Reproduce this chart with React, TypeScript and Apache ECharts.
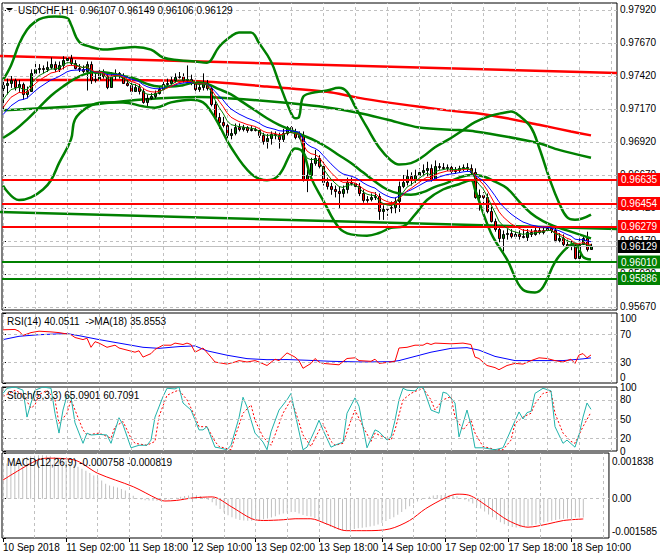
import React, { useEffect, useRef } from "react";
import * as echarts from "echarts";

// ---------------- data ----------------
const headerText = "USDCHF,H1  0.96107 0.96149 0.96106 0.96129";
const rsiText = "RSI(14) 40.0511  ->MA(18) 35.8553";
const stochText = "Stoch(5,3,3) 65.0901 60.7091";
const macdText = "MACD(12,26,9) -0.000758 -0.000819";

const timeLabels = ["10 Sep 2018", "11 Sep 02:00", "11 Sep 18:00", "12 Sep 10:00", "13 Sep 02:00", "13 Sep 18:00", "14 Sep 10:00", "17 Sep 02:00", "17 Sep 18:00", "18 Sep 10:00"];
const timeLabelBars = [0, 16, 32, 48, 64, 80, 96, 112, 128, 144];
const gridBars = [0, 8, 16, 24, 32, 40, 48, 56, 64, 72, 80, 88, 96, 104, 112, 120, 128, 136, 144, 152];
const priceTicks = [0.9567, 0.9592, 0.9617, 0.9642, 0.9667, 0.9692, 0.9717, 0.9742, 0.9767, 0.9792];
const resistanceLevels = [0.96635, 0.96454, 0.96279];
const supportLevels = [0.9601, 0.95886];
const lastPrice = 0.96129;

// [open, high, low, close] per hourly bar
const ohlc = [
  [0.9733, 0.9739, 0.9716, 0.9735], [0.9735, 0.9740, 0.9728, 0.9737], [0.9737, 0.9742, 0.9733, 0.9739], [0.9739, 0.9740, 0.9731, 0.9734], [0.9734, 0.9739, 0.9730, 0.9736],
  [0.9736, 0.9737, 0.9724, 0.9728], [0.9728, 0.9734, 0.9725, 0.9731], [0.9731, 0.9747, 0.9730, 0.9744], [0.9744, 0.9753, 0.9742, 0.9747], [0.9747, 0.9751, 0.9744, 0.9748],
  // 10
  [0.9748, 0.9750, 0.9744, 0.9747], [0.9747, 0.9753, 0.9745, 0.9749], [0.9749, 0.9756, 0.9747, 0.9751], [0.9751, 0.9753, 0.9745, 0.9747], [0.9747, 0.9753, 0.9745, 0.9750],
  [0.9750, 0.9757, 0.9747, 0.9754], [0.9754, 0.9758, 0.9751, 0.9756], [0.9756, 0.9758, 0.9750, 0.9752], [0.9752, 0.9754, 0.9747, 0.9748], [0.9748, 0.9751, 0.9745, 0.9747],
  // 20
  [0.9747, 0.9750, 0.9744, 0.9746], [0.9746, 0.9753, 0.9731, 0.9751], [0.9751, 0.9753, 0.9736, 0.9739], [0.9739, 0.9744, 0.9737, 0.9740], [0.9740, 0.9747, 0.9739, 0.9744],
  [0.9744, 0.9747, 0.9740, 0.9742], [0.9742, 0.9744, 0.9732, 0.9734], [0.9734, 0.9745, 0.9733, 0.9742], [0.9742, 0.9747, 0.9739, 0.9744], [0.9744, 0.9745, 0.9740, 0.9742],
  // 30
  [0.9742, 0.9744, 0.9736, 0.9737], [0.9737, 0.9739, 0.9734, 0.9735], [0.9735, 0.9737, 0.9728, 0.9731], [0.9731, 0.9736, 0.9730, 0.9734], [0.9734, 0.9736, 0.9728, 0.9731],
  [0.9731, 0.9733, 0.9721, 0.9722], [0.9722, 0.9728, 0.9718, 0.9725], [0.9725, 0.9729, 0.9724, 0.9727], [0.9727, 0.9731, 0.9725, 0.9729], [0.9729, 0.9734, 0.9728, 0.9732],
  // 40
  [0.9732, 0.9738, 0.9731, 0.9736], [0.9736, 0.9740, 0.9734, 0.9737], [0.9737, 0.9742, 0.9736, 0.9739], [0.9739, 0.9744, 0.9737, 0.9741], [0.9741, 0.9745, 0.9740, 0.9742],
  [0.9742, 0.9744, 0.9737, 0.9739], [0.9739, 0.9750, 0.9737, 0.9740], [0.9740, 0.9743, 0.9735, 0.9737], [0.9737, 0.9740, 0.9730, 0.9732], [0.9732, 0.9737, 0.9730, 0.9734],
  // 50
  [0.9734, 0.9744, 0.9731, 0.9737], [0.9737, 0.9739, 0.9731, 0.9733], [0.9733, 0.9735, 0.9719, 0.9721], [0.9721, 0.9723, 0.9709, 0.9711], [0.9711, 0.9714, 0.9702, 0.9707],
  [0.9707, 0.9711, 0.9703, 0.9705], [0.9705, 0.9707, 0.9695, 0.9697], [0.9697, 0.9702, 0.9694, 0.9699], [0.9699, 0.9706, 0.9697, 0.9703], [0.9703, 0.9706, 0.9700, 0.9702],
  // 60
  [0.9702, 0.9705, 0.9700, 0.9703], [0.9703, 0.9704, 0.9699, 0.9701], [0.9701, 0.9704, 0.9700, 0.9702], [0.9702, 0.9703, 0.9700, 0.9701], [0.9701, 0.9703, 0.9695, 0.9697],
  [0.9697, 0.9699, 0.9690, 0.9693], [0.9693, 0.9698, 0.9687, 0.9695], [0.9695, 0.9700, 0.9690, 0.9698], [0.9698, 0.9700, 0.9694, 0.9697], [0.9697, 0.9699, 0.9687, 0.9694],
  // 70
  [0.9694, 0.9702, 0.9692, 0.9699], [0.9699, 0.9704, 0.9697, 0.9703], [0.9703, 0.9704, 0.9698, 0.9700], [0.9700, 0.9702, 0.9694, 0.9696], [0.9696, 0.9700, 0.9694, 0.9697],
  [0.9697, 0.9700, 0.9662, 0.9663], [0.9663, 0.9671, 0.9654, 0.9667], [0.9667, 0.9680, 0.9665, 0.9676], [0.9676, 0.9686, 0.9674, 0.9680], [0.9680, 0.9682, 0.9672, 0.9674],
  // 80
  [0.9674, 0.9677, 0.9659, 0.9662], [0.9662, 0.9665, 0.9656, 0.9659], [0.9659, 0.9661, 0.9652, 0.9656], [0.9656, 0.9659, 0.9650, 0.9655], [0.9655, 0.9658, 0.9642, 0.9653],
  [0.9653, 0.9659, 0.9650, 0.9656], [0.9656, 0.9665, 0.9653, 0.9662], [0.9662, 0.9665, 0.9659, 0.9661], [0.9661, 0.9663, 0.9656, 0.9659], [0.9659, 0.9661, 0.9651, 0.9653],
  // 90
  [0.9653, 0.9656, 0.9646, 0.9648], [0.9648, 0.9651, 0.9646, 0.9649], [0.9649, 0.9653, 0.9647, 0.9650], [0.9650, 0.9654, 0.9648, 0.9651], [0.9651, 0.9653, 0.9633, 0.9640],
  [0.9640, 0.9644, 0.9633, 0.9641], [0.9641, 0.9644, 0.9636, 0.9642], [0.9642, 0.9647, 0.9638, 0.9643], [0.9643, 0.9650, 0.9638, 0.9647], [0.9647, 0.9662, 0.9639, 0.9659],
  // 100
  [0.9659, 0.9667, 0.9657, 0.9662], [0.9662, 0.9671, 0.9659, 0.9666], [0.9666, 0.9669, 0.9659, 0.9663], [0.9663, 0.9671, 0.9661, 0.9667], [0.9667, 0.9672, 0.9665, 0.9669],
  [0.9669, 0.9675, 0.9666, 0.9671], [0.9671, 0.9677, 0.9666, 0.9672], [0.9672, 0.9675, 0.9662, 0.9664], [0.9664, 0.9678, 0.9663, 0.9674], [0.9674, 0.9676, 0.9671, 0.9673],
  // 110
  [0.9673, 0.9676, 0.9671, 0.9672], [0.9672, 0.9675, 0.9670, 0.9673], [0.9673, 0.9675, 0.9668, 0.9670], [0.9670, 0.9673, 0.9668, 0.9671], [0.9671, 0.9674, 0.9669, 0.9672],
  [0.9672, 0.9675, 0.9670, 0.9673], [0.9673, 0.9676, 0.9670, 0.9672], [0.9672, 0.9675, 0.9667, 0.9669], [0.9669, 0.9672, 0.9649, 0.9650], [0.9650, 0.9656, 0.9640, 0.9652],
  // 120
  [0.9652, 0.9654, 0.9644, 0.9650], [0.9650, 0.9653, 0.9638, 0.9640], [0.9640, 0.9643, 0.9631, 0.9632], [0.9632, 0.9634, 0.9624, 0.9626], [0.9626, 0.9628, 0.9616, 0.9619],
  [0.9619, 0.9625, 0.9609, 0.9622], [0.9622, 0.9626, 0.9618, 0.9623], [0.9623, 0.9626, 0.9619, 0.9621], [0.9621, 0.9625, 0.9619, 0.9622], [0.9622, 0.9625, 0.9618, 0.9621],
  // 130
  [0.9621, 0.9626, 0.9619, 0.9620], [0.9620, 0.9626, 0.9617, 0.9624], [0.9624, 0.9626, 0.9620, 0.9622], [0.9622, 0.9628, 0.9621, 0.9625], [0.9625, 0.9627, 0.9622, 0.9624],
  [0.9624, 0.9628, 0.9622, 0.9625], [0.9625, 0.9630, 0.9624, 0.9627], [0.9627, 0.9629, 0.9623, 0.9625], [0.9625, 0.9628, 0.9616, 0.9618], [0.9618, 0.9623, 0.9616, 0.9619],
  // 140
  [0.9619, 0.9622, 0.9613, 0.9615], [0.9615, 0.9618, 0.9611, 0.9613], [0.9613, 0.9617, 0.9610, 0.9614], [0.9614, 0.9615, 0.9603, 0.9604], [0.9604, 0.9619, 0.9600, 0.9615],
  [0.9615, 0.9621, 0.9614, 0.9619], [0.9619, 0.9624, 0.9609, 0.9611], [0.96107, 0.96149, 0.96106, 0.96129],
];

// moving-average starting values read at the left edge
const maSeeds = { fast: 0.9718, mid: 0.9713, slow: 0.9709 };
const maPeriods = { fast: 5, mid: 8, slow: 13 };

// long lines [bar, price]
const trendTop = [[-0.75, 0.97572], [153.5, 0.97443]];
const trendGreen = [[-0.75, 0.9639], [153.5, 0.9626]];
const longRedMa = [[0, 0.9739], [24, 0.9739], [49, 0.9738], [66, 0.9734], [81, 0.973], [88, 0.9726], [96, 0.9722], [106, 0.9718], [114, 0.9715], [118, 0.9714], [126, 0.971], [134, 0.9705], [142, 0.97], [147, 0.9697]];
const longGreenMa = [[0, 0.9716], [18, 0.9719], [34, 0.9724], [49, 0.9726], [57, 0.9725], [70, 0.9722], [79, 0.9719], [89, 0.9714], [96, 0.9709], [104, 0.9703], [114, 0.9701], [118, 0.97], [126, 0.9696], [134, 0.9691], [139, 0.9686], [147, 0.968]];
const bandUpper = [[0, 0.9739], [2, 0.975], [4, 0.9766], [6, 0.9777], [8, 0.9783], [10, 0.9786], [13, 0.9787], [16, 0.9786], [17, 0.9781], [19, 0.9768], [22, 0.9764], [25, 0.9762], [29, 0.9763], [33, 0.9764], [37, 0.9762], [40, 0.9756], [44, 0.9754], [48, 0.9753], [51, 0.9752], [52, 0.9754], [54, 0.9764], [57, 0.9772], [59, 0.9775], [62, 0.9775], [64, 0.9767], [67, 0.9753], [69, 0.9737], [72, 0.9714], [73, 0.971], [74, 0.9711], [75, 0.9726], [77, 0.9729], [81, 0.9731], [84, 0.9733], [86, 0.973], [88, 0.9719], [91, 0.9703], [94, 0.9688], [97, 0.9678], [99, 0.9675], [102, 0.9676], [105, 0.9681], [108, 0.9688], [112, 0.9695], [115, 0.9701], [118, 0.9707], [122, 0.9712], [125, 0.9714], [127, 0.9715], [129, 0.9712], [132, 0.9703], [134, 0.9688], [137, 0.9661], [139, 0.9646], [141, 0.9635], [143, 0.9633], [147, 0.9637]];
const bandMiddle = [[0, 0.9695], [3, 0.9701], [6, 0.9709], [9, 0.9718], [12, 0.9727], [15, 0.9734], [18, 0.974], [21, 0.9744], [24, 0.9745], [27, 0.9744], [30, 0.9742], [33, 0.974], [36, 0.9736], [39, 0.9734], [42, 0.9734], [45, 0.9735], [48, 0.9737], [51, 0.9736], [54, 0.9732], [57, 0.9728], [60, 0.9722], [63, 0.9716], [66, 0.971], [69, 0.9705], [72, 0.9701], [75, 0.9697], [78, 0.9693], [81, 0.9688], [84, 0.9682], [87, 0.9676], [90, 0.9669], [93, 0.9662], [96, 0.9656], [99, 0.9653], [102, 0.9652], [105, 0.9654], [108, 0.9658], [111, 0.9661], [114, 0.9665], [117, 0.9667], [120, 0.9666], [123, 0.9662], [126, 0.9657], [129, 0.9647], [132, 0.9638], [135, 0.9632], [138, 0.9628], [141, 0.9625], [144, 0.9622], [147, 0.9619]];
const bandLower = [[0, 0.9659], [4, 0.9648], [7, 0.965], [10, 0.9656], [12, 0.9663], [14, 0.9676], [17, 0.9694], [18, 0.9709], [21, 0.9718], [25, 0.9722], [30, 0.9722], [35, 0.9719], [38, 0.9718], [42, 0.9722], [47, 0.9724], [50, 0.9722], [52, 0.9715], [54, 0.9705], [57, 0.9688], [62, 0.9668], [66, 0.9663], [69, 0.9667], [72, 0.9684], [73, 0.9687], [75, 0.9684], [77, 0.9665], [80, 0.9648], [84, 0.9627], [87, 0.9622], [91, 0.9621], [94, 0.9623], [97, 0.9627], [100, 0.9628], [103, 0.9637], [106, 0.9648], [110, 0.9656], [114, 0.966], [117, 0.9663], [118, 0.9656], [122, 0.9623], [126, 0.9603], [130, 0.958], [133, 0.9578], [135, 0.9582], [138, 0.9601], [141, 0.9612], [143, 0.9615], [145, 0.9605], [147, 0.9603]];

// oscillators [bar, value]
const rsiLine = [[0, 76], [3, 76.5], [4, 74], [5, 68], [7, 72], [9, 74], [12, 73], [14, 72], [17, 69], [18, 65], [20, 62], [21, 64], [22, 51], [23, 59], [24, 57], [26, 51], [28, 54], [29, 50], [31, 47], [33, 44], [34, 46], [35, 37], [37, 42], [38, 48], [40, 54], [42, 54], [43, 57], [45, 55], [46, 57], [47, 55], [48, 44], [49, 47], [50, 50], [52, 37], [53, 30], [56, 27], [58, 30], [59, 32], [61, 30], [63, 32], [64, 30], [66, 25], [68, 34], [69, 32], [71, 43], [73, 37], [74, 32], [75, 21], [77, 28], [78, 35], [79, 30], [80, 28], [82, 27], [84, 26], [86, 35], [88, 36], [89, 32], [92, 31], [93, 34], [94, 28], [97, 30], [98, 31], [99, 50], [101, 51], [103, 54], [105, 54], [106, 57], [107, 55], [108, 57], [112, 56], [115, 57], [117, 55], [118, 37], [119, 35], [121, 25], [123, 22], [124, 19], [126, 25], [128, 28], [130, 27], [132, 32], [134, 36], [136, 35], [138, 32], [140, 30], [142, 34], [143, 28], [144, 40], [145, 42], [146, 36], [147, 40.05]];
const rsiMa = [[0, 62], [4, 66.7], [9, 69], [16, 70.6], [19, 67.6], [24, 62], [29, 57], [35, 51], [39, 49.5], [44, 52], [48, 53], [51, 46], [56, 39.7], [61, 34.8], [66, 33.3], [71, 33.5], [76, 32.5], [82, 31], [90, 30], [97, 30.5], [99, 32], [103, 38], [107, 44], [112, 49.5], [116, 50.5], [119, 47], [123, 38], [128, 32], [132, 32], [140, 32], [145, 34.5], [147, 35.86]];
const stochMain = [[0, 90], [1, 98], [3, 100], [5, 95], [6, 53], [7, 75], [8, 95], [10, 100], [12, 98], [13, 59], [14, 28], [15, 64], [16, 87], [17, 84], [18, 44], [20, 12], [21, 28], [22, 25], [24, 26], [26, 25], [27, 12], [29, 52], [30, 41], [32, 5], [34, 9], [36, 9], [37, 17], [38, 53], [40, 85], [41, 98], [43, 97], [44, 100], [45, 75], [47, 64], [49, 33], [50, 33], [51, 38], [53, 6], [54, 5], [56, 2], [57, 9], [59, 52], [60, 84], [61, 69], [63, 28], [65, 14], [66, 2], [67, 30], [69, 64], [71, 80], [72, 90], [73, 59], [75, 2], [76, 6], [78, 33], [79, 48], [80, 33], [82, 6], [83, 9], [85, 14], [86, 59], [88, 83], [89, 70], [91, 5], [93, 33], [94, 30], [96, 17], [97, 22], [98, 48], [99, 80], [100, 98], [101, 95], [103, 94], [104, 100], [105, 100], [107, 64], [109, 59], [110, 92], [111, 90], [113, 75], [114, 22], [116, 64], [117, 40], [118, 5], [120, 5], [123, 2], [125, 5], [127, 33], [129, 61], [130, 50], [131, 60], [132, 62], [133, 90], [135, 98], [137, 94], [138, 38], [140, 12], [141, 17], [143, 6], [144, 25], [145, 53], [146, 75], [147, 65.09]];
const stochSignal = [[0, 85], [3, 95], [5, 88], [7, 67], [8, 72], [9, 88], [11, 95], [13, 80], [14, 43], [16, 59], [17, 80], [18, 64], [20, 33], [21, 25], [24, 28], [27, 20], [28, 38], [30, 46], [32, 20], [33, 12], [36, 9], [38, 15], [39, 54], [41, 87], [43, 93], [44, 95], [46, 80], [48, 54], [49, 38], [51, 38], [53, 15], [54, 7], [57, 2], [58, 22], [60, 59], [62, 72], [63, 48], [65, 22], [67, 9], [68, 25], [70, 59], [72, 80], [73, 64], [75, 25], [77, 7], [78, 20], [80, 43], [82, 15], [83, 9], [85, 12], [87, 48], [88, 64], [90, 38], [92, 15], [93, 28], [95, 22], [97, 17], [98, 33], [100, 80], [102, 90], [103, 93], [105, 98], [107, 80], [108, 64], [110, 80], [112, 85], [113, 53], [115, 33], [117, 48], [118, 28], [120, 7], [122, 4], [123, 2], [125, 2], [127, 17], [128, 43], [130, 53], [132, 59], [133, 74], [135, 90], [137, 93], [138, 59], [140, 28], [142, 15], [143, 12], [145, 38], [147, 60.71]];
const macdHist = [
  0.00134, 0.00142, 0.00148, 0.00154, 0.00159, 0.00164, 0.00168, 0.00171, 0.00173, 0.00175,
  0.00175, 0.00174, 0.00171, 0.00168, 0.00164, 0.00159, 0.00154, 0.00147, 0.00137, 0.00128,
  0.0012, 0.00112, 0.00103, 0.00093, 0.00083, 0.00073, 0.0006, 0.00053, 0.00049, 0.00045,
  0.00039, 0.00033, 0.00022, 0.00012, 0.00002, -0.00003, -0.00006, -0.00007, -0.00008, -0.00008,
  -0.00007, -0.00005, -0.00003, 0.0, 0.00004, 0.00008, 0.00011, 0.00013, 0.00014, 0.00014,
  0.00011, 0.00003, -0.00005, -0.00015, -0.00028, -0.00042, -0.00056, -0.00067, -0.00075, -0.00081,
  -0.00086, -0.00088, -0.00089, -0.00089, -0.00088, -0.00086, -0.00083, -0.0008, -0.00076, -0.00071,
  -0.00064, -0.0006, -0.00056, -0.00054, -0.00054, -0.0006, -0.00066, -0.0007, -0.00072, -0.00078,
  -0.00086, -0.00096, -0.00106, -0.00114, -0.0012, -0.00124, -0.00127, -0.00128, -0.00126, -0.00122,
  -0.00119, -0.00117, -0.00115, -0.00112, -0.00109, -0.00104, -0.00098, -0.0009, -0.00082, -0.00075,
  -0.00065, -0.00054, -0.00043, -0.00031, -0.0002, -0.00012, -0.00005, 0.00002, 0.00008, 0.00013,
  0.00015, 0.00015, 0.00015, 0.00015, 0.00014, 0.0001, 0.00003, -0.00004, -0.00012, -0.0002,
  -0.00029, -0.0004, -0.00052, -0.00064, -0.00075, -0.00085, -0.00095, -0.00103, -0.0011, -0.00114,
  -0.00116, -0.00116, -0.00114, -0.00111, -0.00108, -0.00104, -0.001, -0.00096, -0.00093, -0.00089,
  -0.00086, -0.00083, -0.00081, -0.0008, -0.00077, -0.00076, -0.00076, -0.000758,
];
const macdSignal = [[0, 0.00075], [8, 0.0015], [11, 0.00163], [18, 0.00156], [24, 0.00102], [33, 0.00048], [39, 0.0], [41, -0.000095], [44, -0.00007], [48, 0.000027], [53, 0.00007], [58, -0.00034], [63, -0.00081], [66, -0.00088], [71, -0.00085], [74, -0.00081], [78, -0.00081], [82, -0.00102], [87, -0.00129], [92, -0.00129], [98, -0.00122], [103, -0.00088], [107, -0.00041], [112, 0.000027], [115, 0.00018], [118, 0.00014], [123, -0.00034], [128, -0.00088], [133, -0.00115], [138, -0.00102], [142, -0.00088], [147, -0.000819]];

const rsiLevels = [70, 30];
const rsiAxisValues = [0, 30, 70, 100];
const stochLevels = [80, 50, 20];
const stochAxisValues = [0, 20, 50, 80, 100];
const macdAxisValues = [-0.001585, 0, 0.001838];

// ---------------- chart ----------------
const FONT = '"Liberation Sans", Arial, sans-serif';
const X_MIN = -0.25;
const X_MAX = 153.5;

function ema(period: number, seed: number) {
  const k = 2 / (period + 1);
  let e = seed;
  return ohlc.map((d, i) => {
    e = e + k * (d[3] - e);
    return [i, e];
  });
}

function gridLineSeries(k: number, levels: number[]) {
  return {
    type: "line",
    xAxisIndex: k,
    yAxisIndex: k,
    data: [],
    silent: true,
    z: 1,
    markLine: {
      silent: true,
      precision: 8,
      symbol: ["none", "none"],
      label: { show: false },
      lineStyle: { color: "#c0c0c0", type: [3, 3], width: 1 },
      data: [...gridBars.map((b) => ({ xAxis: b })), ...levels.map((v) => ({ yAxis: v }))],
    },
  };
}

function lineSeries(k: number, data: number[][], color: string, width: number, extra: any = {}) {
  return {
    type: "line",
    xAxisIndex: k,
    yAxisIndex: k,
    data,
    showSymbol: false,
    symbol: "none",
    silent: true,
    lineStyle: { color, width, ...(extra.lineStyle || {}) },
    z: extra.z ?? 4,
    smooth: extra.smooth ?? false,
  };
}

function richLabel(text: string, key: string) {
  return `{${key}|${text}}`;
}

function buildOption() {
  const panels = [
    { top: 3, height: 307 },
    { top: 313, height: 70 },
    { top: 387, height: 64 },
    { top: 453, height: 85 },
  ];
  const labelBase = { color: "#000", fontSize: 10, fontFamily: FONT };

  const xAxes: any[] = panels.map((_, k) => ({ type: "value", gridIndex: k, min: X_MIN, max: X_MAX, show: false }));
  xAxes.push({
    type: "value",
    gridIndex: 3,
    min: X_MIN,
    max: X_MAX,
    position: "bottom",
    axisLine: { show: false },
    splitLine: { show: false },
    axisTick: { show: true, customValues: timeLabelBars, length: 4, lineStyle: { color: "#000" } },
    axisLabel: {
      ...labelBase,
      customValues: timeLabelBars,
      align: "left",
      margin: 4,
      formatter: (v: number) => {
        const idx = timeLabelBars.indexOf(Math.round(v));
        return idx >= 0 ? timeLabels[idx] : "";
      },
    },
  });

  const yBase = { type: "value", position: "right", axisLine: { show: false }, splitLine: { show: false } };
  const yAxes = [
    {
      ...yBase,
      gridIndex: 0,
      min: 0.95647,
      max: 0.97973,
      axisTick: { show: true, customValues: priceTicks, length: 3, lineStyle: { color: "#000" } },
      axisLabel: { ...labelBase, customValues: priceTicks, margin: 3, showMinLabel: true, showMaxLabel: true, formatter: (v: number) => v.toFixed(5) },
    },
    {
      ...yBase,
      gridIndex: 1,
      min: 0,
      max: 100,
      axisTick: { show: true, customValues: rsiAxisValues, length: 3, lineStyle: { color: "#000" } },
      axisLabel: {
        ...labelBase,
        customValues: rsiAxisValues,
        margin: 3,
        showMinLabel: true,
        showMaxLabel: true,
        formatter: (v: number) => (v === 100 ? richLabel("100", "t") : v === 0 ? richLabel("0", "b") : String(v)),
        rich: { t: { ...labelBase, padding: [11, 0, 0, 0] }, b: { ...labelBase, padding: [0, 0, 11, 0] } },
      },
    },
    {
      ...yBase,
      gridIndex: 2,
      min: 0,
      max: 100,
      axisTick: { show: true, customValues: stochAxisValues, length: 3, lineStyle: { color: "#000" } },
      axisLabel: {
        ...labelBase,
        customValues: stochAxisValues,
        margin: 3,
        lineHeight: 10,
        showMinLabel: true,
        showMaxLabel: true,
        formatter: (v: number) => String(v),
      },
    },
    {
      ...yBase,
      gridIndex: 3,
      min: macdAxisValues[0],
      max: macdAxisValues[2],
      axisTick: { show: true, customValues: macdAxisValues, length: 3, lineStyle: { color: "#000" } },
      axisLabel: {
        ...labelBase,
        customValues: macdAxisValues,
        margin: 3,
        showMinLabel: true,
        showMaxLabel: true,
        formatter: (v: number) =>
          v > 0 ? richLabel(v.toFixed(6), "t") : v < 0 ? richLabel(v.toFixed(6), "b") : "0.00",
        rich: { t: { ...labelBase, padding: [16, 0, 0, 0] }, b: { ...labelBase, padding: [0, 0, 14, 0] } },
      },
    },
  ];

  const levelLabel = {
    show: true,
    position: "end",
    distance: 1,
    color: "#fff",
    fontSize: 10,
    fontFamily: FONT,
    padding: [2, 3, 1, 3],
    formatter: (p: any) => Number(p.value).toFixed(5),
  };

  const series: any[] = [
    gridLineSeries(0, priceTicks),
    gridLineSeries(1, rsiLevels),
    gridLineSeries(2, stochLevels),
    gridLineSeries(3, [0]),
    // horizontal levels with price boxes
    {
      type: "line",
      xAxisIndex: 0,
      yAxisIndex: 0,
      data: [],
      silent: true,
      z: 2,
      markLine: {
        silent: true,
        precision: 8,
        symbol: ["none", "none"],
        label: levelLabel,
        data: [
          { yAxis: lastPrice, lineStyle: { color: "#c0c0c0", width: 1, type: "solid" }, label: { ...levelLabel, backgroundColor: "#000" } },
          ...resistanceLevels.map((v) => ({ yAxis: v, lineStyle: { color: "#ff0000", width: 2, type: "solid" }, label: { ...levelLabel, backgroundColor: "#ff0000" } })),
          ...supportLevels.map((v) => ({ yAxis: v, lineStyle: { color: "#008000", width: 2, type: "solid" }, label: { ...levelLabel, backgroundColor: "#008000" } })),
        ],
      },
    },
    lineSeries(0, trendTop, "#ff0000", 2.5, { z: 2 }),
    lineSeries(0, trendGreen, "#008000", 2.5, { z: 2 }),
    lineSeries(0, longRedMa, "#ff0000", 2.5, { z: 2, smooth: 0.3 }),
    lineSeries(0, longGreenMa, "#008000", 2.5, { z: 2, smooth: 0.3 }),
    lineSeries(0, bandUpper, "#008000", 2.5, { z: 4, smooth: 0.4 }),
    lineSeries(0, bandMiddle, "#008000", 2.5, { z: 4, smooth: 0.4 }),
    lineSeries(0, bandLower, "#008000", 2.5, { z: 4, smooth: 0.4 }),
    // candles
    {
      type: "custom",
      xAxisIndex: 0,
      yAxisIndex: 0,
      z: 3,
      silent: true,
      data: ohlc.map((d, i) => [i, d[0], d[1], d[2], d[3]]),
      encode: { x: 0, y: [1, 2, 3, 4] },
      renderItem: (params: any, api: any) => {
        const i = api.value(0);
        const o = api.value(1);
        const h = api.value(2);
        const l = api.value(3);
        const c = api.value(4);
        const po = api.coord([i, o]);
        const pc = api.coord([i, c]);
        const ph = api.coord([i, h]);
        const pl = api.coord([i, l]);
        const cx = Math.round(po[0]) + 0.5;
        const top = Math.round(Math.min(po[1], pc[1])) + 0.5;
        const bot = Math.round(Math.max(po[1], pc[1])) + 0.5;
        return {
          type: "group",
          children: [
            { type: "line", shape: { x1: cx, y1: ph[1], x2: cx, y2: pl[1] }, style: { stroke: "#000", lineWidth: 1 } },
            {
              type: "rect",
              shape: { x: cx - 1, y: top, width: 2, height: Math.max(bot - top, 0.5) },
              style: { fill: c >= o ? "#008000" : "#ff0000", stroke: "#000", lineWidth: 1 },
            },
          ],
        };
      },
    },
    lineSeries(0, ema(maPeriods.slow, maSeeds.slow), "#0000ff", 1, { z: 5 }),
    lineSeries(0, ema(maPeriods.mid, maSeeds.mid), "#ff0000", 1, { z: 5 }),
    lineSeries(0, ema(maPeriods.fast, maSeeds.fast), "#008000", 1, { z: 5 }),
    // RSI
    lineSeries(1, rsiMa, "#0000ff", 1),
    lineSeries(1, rsiLine, "#ff0000", 1),
    // Stochastic
    lineSeries(2, stochSignal, "#ff0000", 1, { lineStyle: { type: [2, 2] } }),
    lineSeries(2, stochMain, "#20b2aa", 1),
    // MACD
    {
      type: "bar",
      xAxisIndex: 3,
      yAxisIndex: 3,
      data: macdHist.map((v, i) => [i, v]),
      barWidth: 1,
      silent: true,
      itemStyle: { color: "#c0c0c0" },
      z: 2,
    },
    lineSeries(3, macdSignal, "#ff0000", 1, { smooth: 0.3 }),
  ];

  const titleStyle = { fontSize: 10, fontWeight: "normal", color: "#000", fontFamily: FONT };
  return {
    animation: false,
    backgroundColor: "#fff",
    textStyle: { fontFamily: FONT },
    title: [
      { text: headerText, left: 18, top: 5, padding: 0, textStyle: titleStyle },
      { text: rsiText, left: 7, top: 316, padding: 0, textStyle: titleStyle },
      { text: stochText, left: 7, top: 390, padding: 0, textStyle: titleStyle },
      { text: macdText, left: 7, top: 457, padding: 0, textStyle: titleStyle },
    ],
    graphic: [{ type: "polygon", shape: { points: [[6, 8], [13, 8], [9.5, 12]] }, style: { fill: "#000" } }],
    grid: panels.map((p) => ({ left: 2, right: 43, top: p.top, height: p.height, show: true, borderColor: "#000", borderWidth: 1, backgroundColor: "rgba(0,0,0,0)" })),
    xAxis: xAxes,
    yAxis: yAxes,
    series,
  };
}

export default function App() {
  const ref = useRef<HTMLDivElement>(null);
  useEffect(() => {
    if (!ref.current) return;
    const chart = echarts.init(ref.current, null, { renderer: "svg" });
    chart.setOption(buildOption() as any);
    return () => chart.dispose();
  }, []);
  return <div ref={ref} style={{ position: "fixed", left: 0, top: 0, width: 660, height: 560, background: "#fff" }} />;
}
